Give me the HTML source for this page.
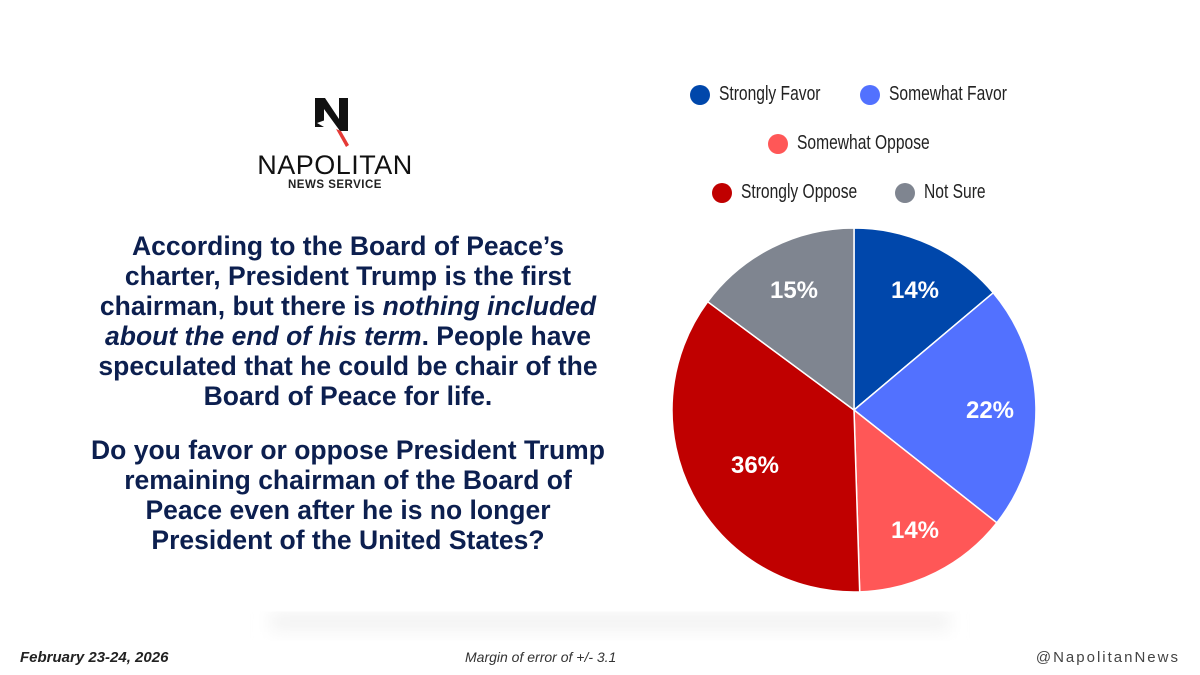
<!DOCTYPE html>
<html><head><style>
body{margin:0;width:1200px;height:675px;background:#fff;position:relative;overflow:hidden;font-family:"Liberation Sans",sans-serif}
.q{position:absolute;left:87px;width:522px;text-align:center;color:#0c1f4f;font-weight:bold;font-size:26.5px;line-height:30px}
.leg{position:absolute;font-size:20px;color:#222;display:flex;align-items:center;white-space:nowrap}
.leg span.t{display:inline-block;transform:scaleX(0.78);transform-origin:left center}
.dot{width:20px;height:20px;border-radius:50%;margin-right:9px;display:inline-block}
.ft{position:absolute;top:649px;font-style:italic;font-size:15px;color:#333}
</style></head><body>
<svg style="position:absolute;left:314px;top:97px" width="38" height="52" viewBox="0 0 38 52">
<path d="M1 1H11L25 22V1H34V34H26L10 12V30H1Z" fill="#111"/>
<path d="M3 26 L14 22 L18 28 L10 30Z" fill="#fff"/>
<path d="M22 32 L27 34 L35 48 L32 50Z" fill="#e53935"/>
</svg>
<div style="position:absolute;left:250px;top:150px;width:170px;text-align:center;font-size:27px;letter-spacing:0.5px;color:#111">NAPOLITAN</div>
<div style="position:absolute;left:250px;top:179px;width:170px;text-align:center;font-size:11.5px;font-weight:bold;letter-spacing:0.5px;color:#222">NEWS SERVICE</div>
<div class="q" style="top:231px">According to the Board of Peace’s charter, President Trump is the first chairman, but there is <i>nothing included about the end of his term</i>. People have speculated that he could be chair of the Board of Peace for life.</div>
<div class="q" style="top:435px">Do you favor or oppose President Trump remaining chairman of the Board of Peace even after he is no longer President of the United States?</div>
<div class="leg" style="left:690px;top:83px"><span class="dot" style="background:#0047ab"></span><span class="t">Strongly Favor</span></div>
<div class="leg" style="left:860px;top:83px"><span class="dot" style="background:#5271ff"></span><span class="t">Somewhat Favor</span></div>
<div class="leg" style="left:768px;top:132px"><span class="dot" style="background:#ff5757"></span><span class="t">Somewhat Oppose</span></div>
<div class="leg" style="left:712px;top:181px"><span class="dot" style="background:#c00000"></span><span class="t">Strongly Oppose</span></div>
<div class="leg" style="left:895px;top:181px"><span class="dot" style="background:#7f8590"></span><span class="t">Not Sure</span></div>
<svg style="position:absolute;left:0;top:0" width="1200" height="675">
<defs><linearGradient id="sh" x1="0" y1="0" x2="0" y2="1"><stop offset="0" stop-color="#ececec"/><stop offset="1" stop-color="#fff"/></linearGradient>
<filter id="bl"><feGaussianBlur stdDeviation="8"/></filter></defs>
<rect x="270" y="614" width="680" height="24" fill="url(#sh)" filter="url(#bl)"/>
<g stroke="#fff" stroke-width="1.5">
<path d="M854 410L854 228A182 182 0 0 1 993.2 292.8Z" fill="#0047ab"/>
<path d="M854 410L993.2 292.8A182 182 0 0 1 996.8 522.8Z" fill="#5271ff"/>
<path d="M854 410L996.8 522.8A182 182 0 0 1 859.7 591.9Z" fill="#ff5757"/>
<path d="M854 410L859.7 591.9A182 182 0 0 1 707.7 301.7Z" fill="#c00000"/>
<path d="M854 410L707.7 301.7A182 182 0 0 1 854 228Z" fill="#7f8590"/>
</g>
<g fill="#fff" font-family="Liberation Sans,sans-serif" font-weight="bold" font-size="24" text-anchor="middle">
<text x="915" y="298">14%</text><text x="990" y="418">22%</text><text x="915" y="538">14%</text>
<text x="755" y="473">36%</text><text x="794" y="298">15%</text></g>
</svg>
<div class="ft" style="left:20px;font-weight:bold;color:#222">February 23-24, 2026</div>
<div class="ft" style="left:465px;font-size:14px">Margin of error of +/- 3.1</div>
<div class="ft" style="right:20px;font-style:normal;letter-spacing:2px;font-size:15px;color:#444">@NapolitanNews</div>
</body></html>
